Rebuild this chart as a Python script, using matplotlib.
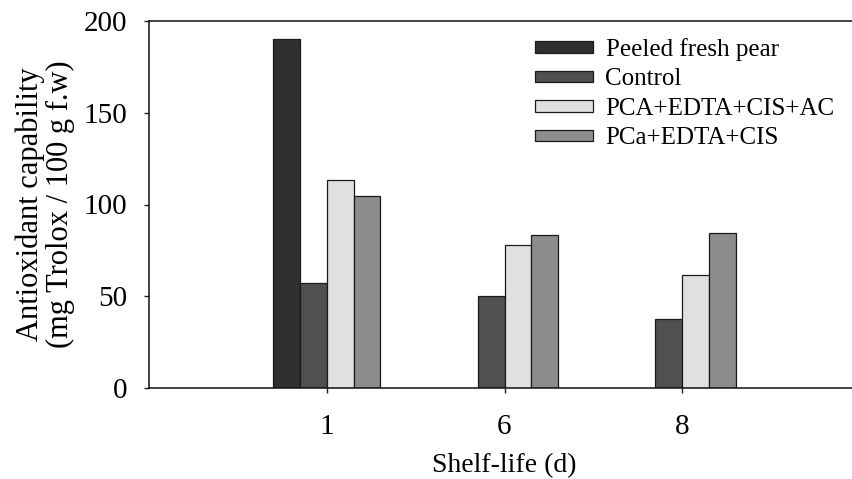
import matplotlib
matplotlib.use("Agg")
import matplotlib.pyplot as plt
import numpy as np

categories = ["1", "6", "8"]
series_names = ["Peeled fresh pear", "Control", "PCA+EDTA+CIS+AC", "PCa+EDTA+CIS"]
peeled = [190, np.nan, np.nan]
control = [57.4, 50.1, 37.4]
pca_ac = [113.4, 77.8, 61.6]
pca = [104.6, 83.2, 84.3]
colors = ["#303030", "#505050", "#e0e0e0", "#8c8c8c"]

plt.rcParams['font.family'] = ['Liberation Serif', 'DejaVu Serif']

fig = plt.figure(figsize=(8.53, 4.79), dpi=100)
ax = fig.add_axes([149/853, 1-388/479, 711/853, 367/479])

x = np.arange(len(categories))
width = 0.151
offsets = [-1.5, -0.5, 0.5, 1.5]
for vals, name, col, off in zip([peeled, control, pca_ac, pca], series_names, colors, offsets):
    ax.bar(x + off*width, vals, width, color=col, edgecolor="#1a1a1a", linewidth=0.9, label=name)

ax.set_xlim(-1, 3)
ax.set_ylim(0, 200)
ax.set_xticks(x)
ax.set_xticklabels(categories)
ax.set_yticks([0, 50, 100, 150, 200])
ax.tick_params(axis='both', direction='out', length=3.5, width=1, labelsize=21, color="#222222")
ax.tick_params(axis='y', pad=12)
ax.tick_params(axis='x', pad=15)
for s in ['left', 'top', 'bottom']:
    ax.spines[s].set_linewidth(1.1)
    ax.spines[s].set_color("#111111")
ax.spines['right'].set_visible(False)

ax.set_xlabel("Shelf-life (d)", fontsize=20, labelpad=10)
ax.set_ylabel("Antioxidant capability\n(mg Trolox / 100 g f.w)", fontsize=22, labelpad=6, linespacing=1.08)

leg = ax.legend(loc='upper left', bbox_to_anchor=(535/853, 1-38/479), bbox_transform=fig.transFigure,
                frameon=False, fontsize=18, handlelength=2.3, handleheight=0.32,
                handletextpad=0.52, labelspacing=0.3, borderpad=0, borderaxespad=0)

fig.savefig("out.png", dpi=100)
